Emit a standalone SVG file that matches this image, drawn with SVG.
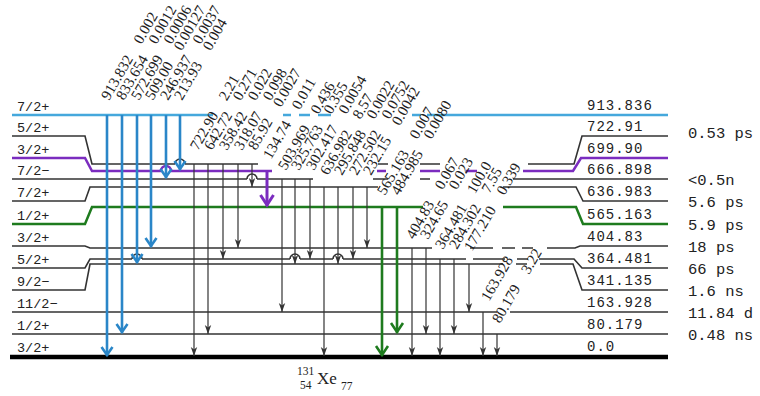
<svg xmlns="http://www.w3.org/2000/svg" width="760" height="396" viewBox="0 0 760 396">
<defs>
<style>
.lv{fill:none;stroke:#333;stroke-width:1.6}
.lvb{fill:none;stroke:#45a8dc;stroke-width:2.5}
.lvp{fill:none;stroke:#7b2cbf;stroke-width:2.5}
.lvg{fill:none;stroke:#1e7b1e;stroke-width:2.5}
.gnd{fill:none;stroke:#000;stroke-width:4.5}
.cov{stroke:#fff;stroke-width:4}
.tk{stroke:#333;stroke-width:1.2;marker-end:url(#mk)}
.tb{stroke:#2a86c8;stroke-width:2.6;marker-end:url(#mb)}
.tp{stroke:#7b2cbf;stroke-width:3;marker-end:url(#mp)}
.tg{stroke:#1e7b1e;stroke-width:2.6;marker-end:url(#mg)}
.lb{font-family:"Liberation Serif",serif;font-size:15px;fill:#222}
.ll{font-family:"Liberation Mono",monospace;font-size:13.5px;fill:#222}
.rl{font-family:"Liberation Mono",monospace;font-size:14px;letter-spacing:1px;fill:#222}
.hl{font-family:"Liberation Mono",monospace;font-size:15.5px;fill:#222}
.nm{font-family:"Liberation Serif",serif;fill:#222}
</style>
<marker id="mk" markerUnits="userSpaceOnUse" orient="auto" overflow="visible" markerWidth="10" markerHeight="10" refX="0" refY="0"><path d="M0,0 L-9,-3.2 L-6.5,0 L-9,3.2 Z" fill="#333"/></marker>
<marker id="mb" markerUnits="userSpaceOnUse" orient="auto" overflow="visible" markerWidth="10" markerHeight="10" refX="0" refY="0"><path d="M-9,-5.5 L-1,0 L-9,5.5" fill="none" stroke="#2a86c8" stroke-width="2.6"/></marker>
<marker id="mp" markerUnits="userSpaceOnUse" orient="auto" overflow="visible" markerWidth="10" markerHeight="10" refX="0" refY="0"><path d="M-11,-6.5 L-1,0 L-11,6.5" fill="none" stroke="#7b2cbf" stroke-width="3"/></marker>
<marker id="mg" markerUnits="userSpaceOnUse" orient="auto" overflow="visible" markerWidth="10" markerHeight="10" refX="0" refY="0"><path d="M-10,-6 L-1,0 L-10,6" fill="none" stroke="#1e7b1e" stroke-width="2.6"/></marker>
</defs>
<rect width="760" height="396" fill="#fff"/>

<g id="lvl-913"><path class="lvb" d="M12,115 H213 M283,115 H291 M299,115 H310 M318,115 H331 M412,115 H421 M427,115 H668"/><text class="ll" x="17" y="111">7/2+</text><text class="rl" x="587" y="110">913.836</text></g>
<g id="lvl-722"><path class="lv" d="M12,136 H85 L92,164 H258 M378,164 H388 M420,164 H440 M528,164 H574 L582,136 H668"/><text class="ll" x="17" y="132">5/2+</text><text class="rl" x="587" y="131">722.91</text><text class="hl" x="688" y="138">0.53 ps</text></g>
<g id="lvl-699"><path class="lvp" d="M12,158 H85 L92,171 H272 M377,171 H386 M420,171 H440 M466,171 H477 M523,171 H573 L581,158 H668"/><text class="ll" x="17" y="154">3/2+</text><text class="rl" x="587" y="153">699.90</text></g>
<g id="lvl-666"><path class="lv" d="M12,179 H313 M373,179 H388 M420,179 H430 M513,179 H668"/><text class="ll" x="17" y="175">7/2−</text><text class="rl" x="587" y="174">666.898</text><text class="hl" x="688" y="185">&lt;0.5n</text></g>
<g id="lvl-636"><path class="lv" d="M12,201 H85 L90,187 H378 M503,187 H576 L583,201 H668"/><text class="ll" x="17" y="197">7/2+</text><text class="rl" x="587" y="196">636.983</text><text class="hl" x="688" y="207">5.6 ps</text></g>
<g id="lvl-565"><path class="lvg" d="M12,224 H85 L92,207 H423 M503,207 H576 L583,224 H668"/><text class="ll" x="17" y="220">1/2+</text><text class="rl" x="587" y="219">565.163</text><text class="hl" x="688" y="230">5.9 ps</text></g>
<g id="lvl-404"><path class="lv" d="M12,246 H85 L90,248 H432 M470,248 H493 M502,248 H515 M522,248 H533 M547,248 H575 L580,246 H668"/><text class="ll" x="17" y="242">3/2+</text><text class="rl" x="587" y="241">404.83</text><text class="hl" x="688" y="252">18 ps</text></g>
<g id="lvl-364"><path class="lv" d="M12,268 H85 L90,259 H466 M473,259 H505 M517,259 H528 M539,259 H574 L582,268 H668"/><text class="ll" x="17" y="264">5/2+</text><text class="rl" x="587" y="263">364.481</text><text class="hl" x="688" y="274">66 ps</text></g>
<g id="lvl-341"><path class="lv" d="M12,290 H85 L90,264 H503 M516,264 H527 M540,264 H573 L582,290 H668"/><text class="ll" x="17" y="286">9/2−</text><text class="rl" x="587" y="285">341.135</text><text class="hl" x="688" y="296">1.6 ns</text></g>
<g id="lvl-163"><path class="lv" d="M12,312 H497 M510,312 H668"/><text class="ll" x="17" y="308">11/2−</text><text class="rl" x="587" y="307">163.928</text><text class="hl" x="688" y="318">11.84 d</text></g>
<g id="lvl-80"><path class="lv" d="M12,334 H668"/><text class="ll" x="17" y="330">1/2+</text><text class="rl" x="587" y="329">80.179</text><text class="hl" x="688" y="340">0.48 ns</text></g>
<g id="lvl-0"><path class="gnd" d="M10,357 H668"/><text class="ll" x="17" y="352">3/2+</text><text class="rl" x="587" y="351">0.0</text></g>

<g id="hops">
<path class="cov" d="M175,164 H185 M161,171 H171 M132,259 H142 M247,179 H257 M290,259 H300 M333,259 H343"/>
<path class="lv" d="M175,164 A5,5 0 0 1 185,164 M132,259 A5,5 0 0 1 142,259 M247,179 A5,5 0 0 1 257,179 M290,259 A5,5 0 0 1 300,259 M333,259 A5,5 0 0 1 343,259"/>
<path class="lvp" d="M161,171 A5,5 0 0 1 171,171"/>
</g>

<g id="connectors">
<path class="tb" d="M107,115 V356"/>
<path class="tb" d="M122,115 V333"/>
<path class="tb" d="M137,115 V263"/>
<path class="tb" d="M151,115 V247"/>
<path class="tb" d="M166,115 V178"/>
<path class="tb" d="M180,115 V170"/>
<path class="tk" d="M194,164 V356"/>
<path class="tk" d="M208,164 V334"/>
<path class="tk" d="M223,164 V259"/>
<path class="tk" d="M238,164 V248"/>
<path class="tk" d="M252,164 V187"/>
<path class="tp" d="M267,171 V206"/>
<path class="tk" d="M282,179 V312"/>
<path class="tk" d="M295,179 V264"/>
<path class="tk" d="M310,179 V259"/>
<path class="tk" d="M324,187 V356"/>
<path class="tk" d="M338,187 V264"/>
<path class="tk" d="M353,187 V259"/>
<path class="tk" d="M367,187 V248"/>
<path class="tg" d="M382,207 V356"/>
<path class="tg" d="M397,207 V333"/>
<path class="tk" d="M412,248 V356"/>
<path class="tk" d="M426,248 V334"/>
<path class="tk" d="M440,259 V356"/>
<path class="tk" d="M454,259 V334"/>
<path class="tk" d="M469,264 V312"/>
<path class="tk" d="M483,312 V356"/>
<path class="tk" d="M497,334 V356"/>
</g>

<g id="transition-labels" class="lb">
<text transform="translate(109,101) rotate(-60)">913.832<tspan dx="16">0.002</tspan></text>
<text transform="translate(124,101) rotate(-60)">833.654<tspan dx="16">0.0012</tspan></text>
<text transform="translate(139,101) rotate(-60)">572.699<tspan dx="16">0.0006</tspan></text>
<text transform="translate(153,101) rotate(-60)">509.00<tspan dx="16">0.00127</tspan></text>
<text transform="translate(168,101) rotate(-60)">246.937<tspan dx="16">0.0037</tspan></text>
<text transform="translate(182,101) rotate(-60)">213.93<tspan dx="16">0.004</tspan></text>
<text transform="translate(198,151) rotate(-60)">722.90<tspan dx="16">2.21</tspan></text>
<text transform="translate(212,151) rotate(-60)">642.72<tspan dx="16">0.271</tspan></text>
<text transform="translate(227,151) rotate(-60)">358.42<tspan dx="16">0.022</tspan></text>
<text transform="translate(242,151) rotate(-60)">318.07<tspan dx="16">0.098</tspan></text>
<text transform="translate(256,151) rotate(-60)">85.92<tspan dx="16">0.0027</tspan></text>
<text transform="translate(271,160) rotate(-60)">134.74<tspan dx="16">0.011</tspan></text>
<text transform="translate(286,171) rotate(-60)">503.969<tspan dx="16">0.436</tspan></text>
<text transform="translate(299,171) rotate(-60)">325.763<tspan dx="16">0.355</tspan></text>
<text transform="translate(314,171) rotate(-60)">302.417<tspan dx="16">0.0054</tspan></text>
<text transform="translate(328,176) rotate(-60)">636.982<tspan dx="16">8.57</tspan></text>
<text transform="translate(342,176) rotate(-60)">295.848<tspan dx="16">0.0022</tspan></text>
<text transform="translate(357,176) rotate(-60)">272.502<tspan dx="16">0.0752</tspan></text>
<text transform="translate(371,176) rotate(-60)">232.15<tspan dx="16">0.0042</tspan></text>
<text transform="translate(385,196) rotate(-60)">565.163<tspan dx="16">0.007</tspan></text>
<text transform="translate(399,196) rotate(-60)">484.985<tspan dx="16">0.0080</tspan></text>
<text transform="translate(414,240) rotate(-60)">404.83<tspan dx="16">0.067</tspan></text>
<text transform="translate(428,240) rotate(-60)">324.65<tspan dx="16">0.023</tspan></text>
<text transform="translate(443,250) rotate(-60)">364.481<tspan dx="16">100.0</tspan></text>
<text transform="translate(457,250) rotate(-60)">284.302<tspan dx="16">7.55</tspan></text>
<text transform="translate(472,252) rotate(-60)">177.210<tspan dx="16">0.339</tspan></text>
<text transform="translate(489,302) rotate(-60)">163.928</text>
<text transform="translate(529,275) rotate(-60)">3.22</text>
<text transform="translate(500,324) rotate(-60)">80.179</text>
</g>

<g id="nucleus-label" class="nm">
<text x="297" y="375" font-size="11.5">131</text>
<text x="300" y="389" font-size="11.5">54</text>
<text x="317" y="384" font-size="17">Xe</text>
<text x="341" y="390" font-size="11.5">77</text>
</g>
</svg>
